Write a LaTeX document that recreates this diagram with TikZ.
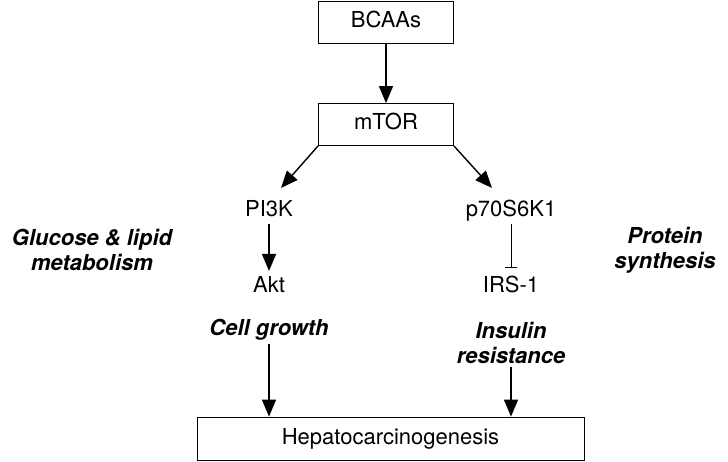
\documentclass[tikz,border=0pt]{standalone}
\usepackage{fontspec}
\setmainfont{TeX Gyre Heros}
\usetikzlibrary{arrows.meta,positioning}

\begin{document}
\begin{tikzpicture}[x=1pt,y=-1pt,
        font=\fontsize{22}{25}\selectfont,
        txt/.style={text height=15pt, text depth=4pt},
        box/.style={draw, line width=0.8pt, minimum width=135pt, minimum height=42pt, txt},
        lbl/.style={font=\fontsize{22}{25}\selectfont\bfseries\itshape, align=center},
        act/.style={line width=1.4pt, -{Triangle[length=17pt,width=14pt]}},
        inh/.style={line width=1pt, -{Bar[width=12pt,line width=1pt]}, shorten >=6pt}]
        \useasboundingbox (0,0) rectangle (728,462);

        \node[box] (bcaa) at (386,22.5) {BCAAs};
        \node[box] (mtor) at (386,124.5) {mTOR};
        \node[txt] (pi3k) at (269,211) {PI3K};
        \node[txt] (p70) at (511,211) {p70S6K1};
        \node[txt] (akt) at (269,287) {Akt};
        \node[txt] (irs) at (511,287) {IRS-1};
        \node[lbl] (cell) at (269,330) {Cell growth};
        \node[lbl] (ins) at (511,343) {Insulin\\resistance};
        \node[lbl] (glu) at (92,250) {Glucose \& lipid\\metabolism};
        \node[lbl] (pro) at (665,250) {Protein\\synthesis};
        \node[box, minimum width=387pt, minimum height=43pt] (hep) at (390.5,438.5) {Hepatocarcinogenesis};

        \draw[act] (bcaa) -- (mtor);
        \draw[act] (mtor.south west) -- ([xshift=12pt,yshift=10pt]pi3k.north);
        \draw[act] (mtor.south east) -- ([xshift=-19pt,yshift=10pt]p70.north);
        \draw[act, shorten >=3pt] (pi3k) -- (akt);
        \draw[inh] (p70) -- (irs);
        \draw[act] (cell) -- (cell |- hep.north);
        \draw[act] (ins) -- (ins |- hep.north);
\end{tikzpicture}
\end{document}
